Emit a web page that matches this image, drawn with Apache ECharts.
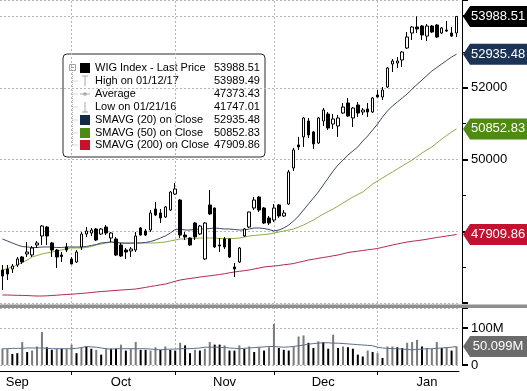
<!DOCTYPE html>
<html><head><meta charset="utf-8">
<script src="https://cdn.jsdelivr.net/npm/echarts/dist/echarts.min.js"></script>
<style>html,body{margin:0;padding:0;background:#fff}#c{width:527px;height:391px}</style>
</head><body><div id="c"></div>
<script>
// ---- DATA ----
// [open, close, low, high]
const ohlc = [
[46920,46752,46362,47059],[46948,46808,46641,47059],[46948,47031,46836,47087],[47059,47227,47004,47282],
[47282,47143,47087,47310],[47366,47421,47282,47700],[47338,47533,47282,47589],[47617,47673,47533,47728],
[47868,48146,47617,48174],[48118,47868,47617,48146],[47673,47477,47282,47700],[47477,47282,46976,47505],
[47338,47296,47143,47421],[47561,47477,47421,47673],[47227,47087,47080,47282],[47143,47421,47115,47477],
[47561,47923,47477,47979],[47923,48007,47840,48118],[47951,48035,47868,48091],[48063,47756,47728,48091],
[47923,48063,47895,48091],[48118,47951,47895,48174],[47812,47951,47700,47979],[47784,47338,47310,47840],
[47617,47310,47282,47673],[47477,47421,47227,47533],[47450,47505,47282,47561],[47477,47868,47421,47979],
[48091,47895,47880,48118],[48007,47895,47868,48063],[48035,48509,47979,48592],[48620,48453,48425,48815],
[48509,48369,48230,48620],[48397,48676,48369,48704],[48592,49094,48564,49122],[49038,49178,49010,49345],
[48871,47895,47812,48900],[47895,47840,47756,47979],[47812,47617,47589,47830],[48230,47840,47756,48258],
[47923,48146,47895,48174],[47227,48230,47198,48258],[48732,48481,48453,49150],[48648,47561,47533,48660],
[47617,47589,47421,47812],[47784,47561,47505,47840],[47784,47282,47254,47790],[47004,46948,46725,47115],
[47143,47533,47115,47561],[47868,48063,47840,48091],[48118,48537,48091,48545],[48648,48871,48592,48955],
[48955,48592,48537,48983],[48648,48230,48202,48676],[48369,48230,48174,48425],[48313,48648,48258,48759],
[48732,48425,48369,48759],[48425,48509,48397,48592],[48759,49652,48732,49708],[49763,50267,49680,50323],
[50406,50351,50267,50629],[50629,51157,50351,51185],[51073,50685,50601,51157],[50768,50434,50295,50796],
[50460,51157,50434,51185],[51073,51380,50934,51435],[51268,50878,50822,51324],[50989,51129,50850,51268],
[50934,51157,50629,51240],[51296,51463,51268,51575],[51575,51213,51185,51714],[51157,51435,50906,51463],
[51519,51296,51185,51602],[51324,51380,51240,51435],[51408,51324,51185,51575],[51324,51714,51296,51742],
[51798,51742,51735,51937],[51742,51937,51658,52021],[52021,52551,51993,52579],[52662,52746,52439,52801],
[52690,52746,52551,52857],[52774,52996,52579,53024],[53108,53414,53080,53554],[53526,53693,53331,53721],
[53693,53638,53526,53989.49],[53721,53470,53331,53749],[53441,53721,53303,53777],[53721,53554,53526,53749],
[53749,53414,53387,53777],[53526,53665,53498,53693],[53610,53582,53554,53861],[53526,53441,53414,53693],
[53526,53988.51,53414,53988.9]
];
const sma20 = [47784,47728,47673,47617,47575,47561,47547,47547,47561,47561,
47561,47547,47547,47561,47561,47561,47561,47575,47603,47631,
47673,47687,47700,47687,47673,47673,47673,47673,47673,47687,
47714,47756,47812,47868,47951,48049,48063,48035,48035,48049,
48063,48063,48077,48091,48077,48063,48063,48049,48035,48035,
48063,48091,48091,48077,48049,48007,48035,48091,48174,48286,
48425,48592,48759,48927,49094,49289,49484,49680,49847,49986,
50126,50237,50351,50516,50655,50822,50989,51185,51352,51491,
51602,51714,51826,51965,52091,52216,52341,52467,52564,52662,
52760,52857,52935.48];
const sma50 = [46920,46962,47004,47059,47129,47198,47282,47324,47366,47394,
47421,47450,47477,47519,47533,47533,47533,47547,47575,47617,
47645,47673,47700,47687,47673,47659,47659,47673,47673,47673,
47673,47673,47687,47700,47728,47756,47784,47784,47798,47798,
47812,47812,47812,47812,47798,47798,47798,47798,47812,47840,
47868,47882,47895,47909,47923,47951,47979,48007,48035,48063,
48118,48174,48244,48313,48397,48481,48550,48620,48704,48788,
48871,48955,49024,49094,49205,49317,49401,49484,49568,49652,
49735,49819,49902,49986,50083,50181,50267,50351,50460,50571,
50669,50768,50852.83];
const sma200 = [46223,46223,46217,46214,46212,46209,46200,46195,46195,46200,
46209,46217,46229,46237,46245,46256,46267,46278,46292,46306,
46320,46329,46340,46351,46362,46371,46379,46390,46412,46435,
46460,46482,46507,46529,46566,46605,46641,46663,46683,46702,
46724,46741,46758,46777,46794,46816,46842,46864,46884,46900,
46920,46948,46976,47004,47017,47031,47045,47065,47081,47101,
47134,47165,47198,47221,47246,47268,47290,47316,47338,47371,
47408,47427,47444,47463,47483,47500,47519,47553,47583,47617,
47645,47673,47700,47720,47737,47756,47778,47803,47826,47845,
47868,47887,47909.86];
// volume in millions
const volume = [44,44,30,32,62,35,39,50,89,48,41,44,44,44,55,32,48,50,44,41,28,44,44,44,55,39,44,62,41,41,39,48,
41,50,41,39,60,53,32,41,39,44,62,55,55,53,39,39,53,44,50,35,48,39,48,111,46,41,39,50,77,80,60,46,
64,62,44,82,46,50,48,44,28,23,39,35,32,19,50,50,48,46,60,62,68,50,46,44,62,46,48,39,50];
const volDark = [0,0,1,1,0,1,0,0,0,1,1,0,1,0,0,1,0,1,1,0,1,0,1,1,0,1,0,0,1,1,0,0,
1,0,1,1,0,1,1,0,1,0,0,1,1,0,1,1,0,1,0,1,0,1,0,0,1,1,1,0,0,0,1,1,
0,1,1,0,1,0,1,1,1,1,0,1,0,1,0,0,1,1,0,0,0,1,0,0,0,1,0,1,0];
const volAvg = [44,44,45,45,45,46,46,46,
46,45,44,44,44,44,44,45,47,
50,49,48,46,44,43,
44,44,44,44,44,44,44,43,42,
41,42,43,43,44,44,44,45,46,
48,48,48,48,47,46,45,
44,45,46,47,48,49,50,
50,49,48,49,50,52,54,
56,58,59,60,60,59,59,
58,57,56,55,54,53,52,
48,46,45,44,44,43,42,
41,42,43,44,44,45,46,47,48,50.099];
const legendStats = [53989.49, 47373.43, 41747.01]; // high, average, low
const legendNames = ['WIG Index - Last Price','High on 01/12/17','Average','Low on 01/21/16',
  'SMAVG (20) on Close','SMAVG (50) on Close','SMAVG (200) on Close'];
const monthNames = ['Jan','Feb','Mar','Apr','May','Jun','Jul','Aug','Sep','Oct','Nov','Dec'];
const monthLabelIdx = [3, 24, 45, 65, 86];
const monthStartIdx = [14, 35, 55, 76];
const priceLabels = [50000, 52000];
const volLabels = [0, 100];
const holidays = ['2016-11-01','2016-11-11','2016-12-26','2017-01-06'];

// trading-day categories
const dates = (function(){
  const out=[]; let d=Date.UTC(2016,8,13); const end=Date.UTC(2017,0,25);
  while(d<=end){ const dt=new Date(d); const wd=dt.getUTCDay(); const s=dt.toISOString().slice(0,10);
    if(wd!==0&&wd!==6&&!holidays.includes(s)) out.push(s); d+=86400000; }
  return out;
})();

// ---- CHART ----
const FONT = 'Liberation Sans';
const last = ohlc.length - 1;
const lastClose = ohlc[last][1];
const C20='#3c4a66', C50='#8cad48', C200='#b3294b', CAVG='#5d6f8e';
const TAG20='#1b3354', TAG50='#4f8a12', TAG200='#c1122f';

function tag(value, bg, text){
  return {
    symbol:'path://M0,10 L7,0 L64,0 L64,20 L7,20 Z', symbolSize:[64,21], symbolKeepAspect:false,
    symbolOffset:[38.5,0], silent:true, animation:false, z:20,
    itemStyle:{color:bg},
    label:{show:true, position:'inside', offset:[3,0], color:'#fff', fontSize:13, fontFamily:FONT, formatter:text},
    data:[{coord:[dates[last], value], value:value}]
  };
}
const vLines = (gi)=>({
  silent:true, symbol:['none','none'], z:1, animation:false,
  label:{show:false}, lineStyle:{color:'#b5b5b5', type:[2,2], width:1},
  data: monthStartIdx.map(i=>({xAxis:dates[i]}))
});

const chart = echarts.init(document.getElementById('c'));

// legend graphic
const legendChildren = [
  {type:'rect', shape:{x:0,y:0,width:202,height:103,r:4}, style:{fill:'#fff', stroke:'#2a2a2a', lineWidth:1}},
  {type:'line', shape:{x1:9.5,y1:14,x2:9.5,y2:91}, style:{stroke:'#b0b0b0', lineDash:[1,1], lineWidth:1}},
  {type:'rect', shape:{x:6.5,y:10.5,width:6,height:6}, style:{fill:'#fff', stroke:'#a0a0a0', lineWidth:1}},
  {type:'line', shape:{x1:8,y1:13.5,x2:11,y2:13.5}, style:{stroke:'#a0a0a0', lineWidth:1}}
];
const rowY = [14,27,40,53,66,79,91];
const legendVals = [lastClose, legendStats[0], legendStats[1], legendStats[2], sma20[last], sma50[last], sma200[last]];
const sqColors = ['#000000', null, null, null, '#13294b', '#4f8a10', '#c8102e'];
rowY.forEach((y,i)=>{
  if(i>0) legendChildren.push({type:'line', shape:{x1:9.5,y1:y,x2:15,y2:y}, style:{stroke:'#b0b0b0', lineDash:[1,1]}});
  if(sqColors[i]) legendChildren.push({type:'rect', shape:{x:17,y:y-5,width:10,height:10}, style:{fill:sqColors[i]}});
  const g='#a8a8a8';
  if(i===1){
    legendChildren.push({type:'line', shape:{x1:19,y1:y-5,x2:25,y2:y-5}, style:{stroke:g}});
    legendChildren.push({type:'line', shape:{x1:22,y1:y-5,x2:22,y2:y+5}, style:{stroke:g}});
  } else if(i===2){
    legendChildren.push({type:'line', shape:{x1:17,y1:y,x2:27,y2:y}, style:{stroke:g}});
    legendChildren.push({type:'circle', shape:{cx:22,cy:y,r:1.8}, style:{fill:g}});
  } else if(i===3){
    legendChildren.push({type:'line', shape:{x1:22,y1:y-5,x2:22,y2:y+5}, style:{stroke:g}});
    legendChildren.push({type:'line', shape:{x1:19,y1:y+5,x2:25,y2:y+5}, style:{stroke:g}});
  }
  legendChildren.push({type:'text', x:32, y:y, style:{text:legendNames[i], fill:'#000', font:'11px "'+FONT+'"', verticalAlign:'middle'}});
  legendChildren.push({type:'text', x:151, y:y, style:{text:legendVals[i].toFixed(2), fill:'#000', font:'11px "'+FONT+'"', verticalAlign:'middle'}});
});

const option = {
  animation:false,
  backgroundColor:'#fff',
  textStyle:{fontFamily:FONT},
  grid:[
    {left:-1, width:460, top:0, height:303},
    {left:-1, width:460, top:308, height:57}
  ],
  xAxis:[
    {type:'category', gridIndex:0, data:dates, boundaryGap:true,
     axisLine:{show:false}, axisTick:{show:false}, axisLabel:{show:false}, splitLine:{show:false}},
    {type:'category', gridIndex:1, data:dates, boundaryGap:true, offset:6,
     axisLine:{show:true, onZero:false, lineStyle:{color:'#000'}},
     axisTick:{show:true, alignWithLabel:true, length:4, interval:(i)=>monthStartIdx.includes(i), lineStyle:{color:'#000'}},
     axisLabel:{show:true, interval:(i)=>monthLabelIdx.includes(i), formatter:(v)=>monthNames[+v.slice(5,7)-1],
       color:'#000', fontSize:13, fontFamily:FONT, margin:5},
     splitLine:{show:false}}
  ],
  yAxis:[
    {type:'value', gridIndex:0, position:'right', offset:3, min:46000, max:54446, interval:2000,
     axisLine:{show:true, onZero:false, lineStyle:{color:'#000'}},
     axisTick:{show:true, length:6, lineStyle:{color:'#000', width:2}},
     minorTick:{show:true, splitNumber:2, length:4, lineStyle:{color:'#000'}},
     axisLabel:{formatter:(v)=>priceLabels.includes(v)?String(v):'', color:'#000', fontSize:13, fontFamily:FONT, margin:9},
     splitLine:{show:true, lineStyle:{color:'#b5b5b5', type:[2,2]}}},
    {type:'value', gridIndex:1, position:'right', offset:3, min:0, max:154, interval:100,
     axisLine:{show:true, onZero:false, lineStyle:{color:'#000'}},
     axisTick:{show:true, length:6, lineStyle:{color:'#000', width:2}},
     axisLabel:{formatter:(v)=>volLabels.includes(v)?(v===0?'0':v+'M'):'', color:'#000', fontSize:13, fontFamily:FONT, margin:9},
     splitLine:{show:true, lineStyle:{color:'#b5b5b5', type:[2,2]}}}
  ],
  series:[
    {name:'grid0', type:'line', xAxisIndex:0, yAxisIndex:0, data:sma200, symbol:'none', z:1, silent:true,
     lineStyle:{opacity:0}, markLine:vLines(0)},
    {name:'grid1', type:'line', xAxisIndex:1, yAxisIndex:1, data:volAvg, symbol:'none', z:1, silent:true,
     lineStyle:{opacity:0}, markLine:vLines(1)},
    {name:'SMAVG (200) on Close', type:'line', xAxisIndex:0, yAxisIndex:0, data:sma200, symbol:'none', z:3,
     lineStyle:{color:C200, width:1}, markPoint:tag(sma200[last], TAG200, (p)=>p.value.toFixed(2))},
    {name:'SMAVG (50) on Close', type:'line', xAxisIndex:0, yAxisIndex:0, data:sma50, symbol:'none', z:3,
     lineStyle:{color:C50, width:1}, markPoint:tag(sma50[last], TAG50, (p)=>p.value.toFixed(2))},
    {name:'SMAVG (20) on Close', type:'line', xAxisIndex:0, yAxisIndex:0, data:sma20, symbol:'none', z:3,
     lineStyle:{color:C20, width:1}, markPoint:tag(sma20[last], TAG20, (p)=>p.value.toFixed(2))},
    {name:'WIG Index', type:'candlestick', xAxisIndex:0, yAxisIndex:0, data:ohlc, barWidth:3, z:4,
     itemStyle:{color:'#ffffff', color0:'#000000', borderColor:'#000000', borderColor0:'#000000', borderWidth:1},
     markPoint:tag(lastClose, '#000000', (p)=>p.value.toFixed(2))},
    {name:'Volume', type:'bar', xAxisIndex:1, yAxisIndex:1, barWidth:2, z:3,
     data:volume.map((v,i)=>({value:v, itemStyle:{color: volDark[i] ? '#000000' : '#7a7a7a'}}))},
    {name:'Volume avg', type:'line', xAxisIndex:1, yAxisIndex:1, data:volAvg, symbol:'none', z:4,
     lineStyle:{color:CAVG, width:1}, markPoint:tag(volAvg[last], '#6b6b6b', (p)=>p.value.toFixed(3)+'M')}
  ],
  graphic:[
    {type:'rect', z:50, shape:{x:0,y:304.5,width:527,height:3.5}, style:{fill:'#8e8e8e'}, silent:true},
    {type:'group', x:63, y:54, z:60, silent:true, children:legendChildren}
  ]
};
chart.setOption(option);
</script></body></html>
